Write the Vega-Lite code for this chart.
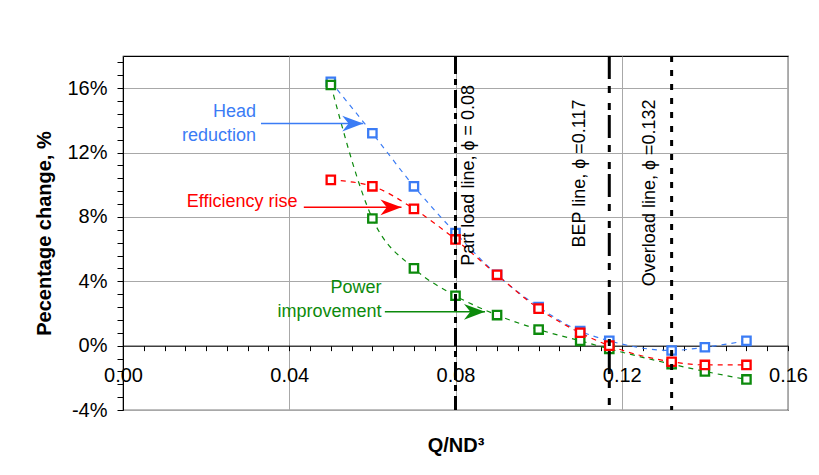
{
  "$schema": "https://vega.github.io/schema/vega-lite/v6.json",
  "width": 665,
  "height": 354,
  "autosize": {"type": "none"},
  "padding": {"left": 123, "top": 56, "right": 31, "bottom": 65},
  "background": "white",
  "config": {
    "font": "Liberation Sans",
    "view": {"stroke": "#000000", "strokeWidth": 1.2},
    "axis": {
      "domainColor": "#000000",
      "tickColor": "#000000",
      "labelColor": "#000000",
      "titleColor": "#000000",
      "gridColor": "#a8a8a8",
      "gridWidth": 1,
      "labelFont": "Liberation Sans",
      "titleFont": "Liberation Sans",
      "labelFontSize": 20,
      "titleFontSize": 20,
      "titleFontWeight": "bold",
      "labelOverlap": false,
      "labelFlush": false
    }
  },
  "datasets": {
    "series": [
      {"q": 0.05, "pct": 16.4, "s": "Head reduction"},
      {"q": 0.06, "pct": 13.2, "s": "Head reduction"},
      {"q": 0.07, "pct": 9.9, "s": "Head reduction"},
      {"q": 0.08, "pct": 7.0, "s": "Head reduction"},
      {"q": 0.09, "pct": 4.4, "s": "Head reduction"},
      {"q": 0.10, "pct": 2.4, "s": "Head reduction"},
      {"q": 0.11, "pct": 0.9, "s": "Head reduction"},
      {"q": 0.117, "pct": 0.3, "s": "Head reduction"},
      {"q": 0.132, "pct": -0.3, "s": "Head reduction"},
      {"q": 0.14, "pct": -0.1, "s": "Head reduction"},
      {"q": 0.15, "pct": 0.3, "s": "Head reduction"},
      {"q": 0.05, "pct": 16.2, "s": "Power improvement"},
      {"q": 0.06, "pct": 7.9, "s": "Power improvement"},
      {"q": 0.07, "pct": 4.8, "s": "Power improvement"},
      {"q": 0.08, "pct": 3.1, "s": "Power improvement"},
      {"q": 0.09, "pct": 1.9, "s": "Power improvement"},
      {"q": 0.10, "pct": 1.0, "s": "Power improvement"},
      {"q": 0.11, "pct": 0.3, "s": "Power improvement"},
      {"q": 0.117, "pct": -0.2, "s": "Power improvement"},
      {"q": 0.132, "pct": -1.15, "s": "Power improvement"},
      {"q": 0.14, "pct": -1.6, "s": "Power improvement"},
      {"q": 0.15, "pct": -2.1, "s": "Power improvement"},
      {"q": 0.05, "pct": 10.3, "s": "Efficiency rise"},
      {"q": 0.06, "pct": 9.9, "s": "Efficiency rise"},
      {"q": 0.07, "pct": 8.5, "s": "Efficiency rise"},
      {"q": 0.08, "pct": 6.6, "s": "Efficiency rise"},
      {"q": 0.09, "pct": 4.4, "s": "Efficiency rise"},
      {"q": 0.10, "pct": 2.3, "s": "Efficiency rise"},
      {"q": 0.11, "pct": 0.8, "s": "Efficiency rise"},
      {"q": 0.117, "pct": 0.0, "s": "Efficiency rise"},
      {"q": 0.132, "pct": -1.0, "s": "Efficiency rise"},
      {"q": 0.14, "pct": -1.2, "s": "Efficiency rise"},
      {"q": 0.15, "pct": -1.2, "s": "Efficiency rise"}
    ],
    "refs": [
      {"q": 0.08, "name": "part", "label": "Part load line, ϕ = 0.08", "ly": 16.2},
      {"q": 0.117, "name": "bep", "label": "BEP line, ϕ =0.117", "ly": 15.3},
      {"q": 0.132, "name": "over", "label": "Overload line, ϕ =0.132", "ly": 15.3}
    ],
    "notes": [
      {"s": "Head reduction", "text": "Head\nreduction", "tx": 0.032, "ty": 14.53, "x1": 0.0332, "x2": 0.0578, "ay": 13.8},
      {"s": "Efficiency rise", "text": "Efficiency rise", "tx": 0.042, "ty": 8.95, "x1": 0.0435, "x2": 0.067, "ay": 8.6},
      {"s": "Power improvement", "text": "Power\nimprovement", "tx": 0.0622, "ty": 3.57, "x1": 0.063, "x2": 0.0871, "ay": 2.1}
    ]
  },
  "layer": [
    {
      "data": {"name": "series"},
      "mark": {"type": "line", "interpolate": "monotone", "strokeDash": [5, 5], "strokeWidth": 1.2},
      "encoding": {
        "x": {
          "field": "q",
          "type": "quantitative",
          "scale": {"domain": [0, 0.16], "nice": false, "zero": false},
          "axis": {
            "title": "Q/ND³",
            "titlePadding": 50,
            "offset": -64.36,
            "tickCount": 100,
            "values": [0, 0.005, 0.01, 0.015, 0.02, 0.025, 0.03, 0.035, 0.04, 0.045, 0.05, 0.055, 0.06, 0.065, 0.07, 0.075, 0.08, 0.085, 0.09, 0.095, 0.1, 0.105, 0.11, 0.115, 0.12, 0.125, 0.13, 0.135, 0.14, 0.145, 0.15, 0.155, 0.16],
            "labelExpr": "abs(datum.value / 0.04 - round(datum.value / 0.04)) < 0.001 ? format(datum.value, '.2f') : ''",
            "tickSize": 5,
            "labelPadding": 15,
            "grid": true,
            "gridOpacity": {"condition": {"test": "abs(datum.value / 0.04 - round(datum.value / 0.04)) < 0.001", "value": 1}, "value": 0}
          }
        },
        "y": {
          "field": "pct",
          "type": "quantitative",
          "scale": {"domain": [-4, 18], "nice": false, "zero": false},
          "axis": {
            "title": "Pecentage change, %",
            "titlePadding": 12,
            "tickCount": 100,
            "values": [-4, -3.2, -2.4, -1.6, -0.8, 0, 0.8, 1.6, 2.4, 3.2, 4, 4.8, 5.6, 6.4, 7.2, 8, 8.8, 9.6, 10.4, 11.2, 12, 12.8, 13.6, 14.4, 15.2, 16, 16.8, 17.6],
            "labelExpr": "abs(datum.value / 4 - round(datum.value / 4)) < 0.001 ? datum.value + '%' : ''",
            "tickSize": 6,
            "labelPadding": 10,
            "grid": true,
            "gridOpacity": {"condition": {"test": "abs(datum.value / 4 - round(datum.value / 4)) < 0.001", "value": 1}, "value": 0}
          }
        },
        "color": {
          "field": "s",
          "type": "nominal",
          "scale": {"domain": ["Head reduction", "Efficiency rise", "Power improvement"], "range": ["#3b7cf5", "#ff0000", "#0c8a0c"]},
          "legend": null
        }
      }
    },
    {
      "data": {"name": "series"},
      "mark": {"type": "point", "shape": "square", "filled": false, "fill": "white", "fillOpacity": 1, "opacity": 1, "size": 70, "strokeWidth": 2.3},
      "encoding": {
        "x": {"field": "q", "type": "quantitative"},
        "y": {"field": "pct", "type": "quantitative"},
        "color": {"field": "s", "type": "nominal", "legend": null}
      }
    },
    {
      "data": {"name": "refs"},
      "mark": {"type": "rule", "color": "#000000", "strokeWidth": 3},
      "encoding": {
        "x": {"field": "q", "type": "quantitative"},
        "strokeDash": {
          "field": "name",
          "type": "nominal",
          "scale": {"domain": ["part", "bep", "over"], "range": [[18, 5, 6, 5], [23, 7, 7, 10, 7, 5], [6, 8]]},
          "legend": null
        }
      }
    },
    {
      "data": {"name": "refs"},
      "transform": [{"filter": "datum.name === 'part'"}],
      "mark": {"type": "text", "angle": 270, "align": "right", "baseline": "alphabetic", "dy": 18, "fontSize": 18, "color": "#000000"},
      "encoding": {
        "x": {"field": "q", "type": "quantitative"},
        "y": {"field": "ly", "type": "quantitative"},
        "text": {"field": "label"}
      }
    },
    {
      "data": {"name": "refs"},
      "transform": [{"filter": "datum.name === 'bep'"}],
      "mark": {"type": "text", "angle": 270, "align": "right", "baseline": "alphabetic", "dy": -24, "fontSize": 18, "color": "#000000"},
      "encoding": {
        "x": {"field": "q", "type": "quantitative"},
        "y": {"field": "ly", "type": "quantitative"},
        "text": {"field": "label"}
      }
    },
    {
      "data": {"name": "refs"},
      "transform": [{"filter": "datum.name === 'over'"}],
      "mark": {"type": "text", "angle": 270, "align": "right", "baseline": "alphabetic", "dy": -17, "fontSize": 18, "color": "#000000"},
      "encoding": {
        "x": {"field": "q", "type": "quantitative"},
        "y": {"field": "ly", "type": "quantitative"},
        "text": {"field": "label"}
      }
    },
    {
      "data": {"name": "notes"},
      "mark": {"type": "text", "align": "right", "baseline": "middle", "fontSize": 18, "lineHeight": 24, "lineBreak": "\n"},
      "encoding": {
        "x": {"field": "tx", "type": "quantitative"},
        "y": {"field": "ty", "type": "quantitative"},
        "text": {"field": "text"},
        "color": {"field": "s", "type": "nominal", "legend": null}
      }
    },
    {
      "data": {"name": "notes"},
      "mark": {"type": "rule", "strokeWidth": 1.5},
      "encoding": {
        "x": {"field": "x1", "type": "quantitative"},
        "x2": {"field": "x2"},
        "y": {"field": "ay", "type": "quantitative"},
        "color": {"field": "s", "type": "nominal", "legend": null}
      }
    },
    {
      "data": {"name": "notes"},
      "mark": {"type": "point", "shape": "M0,0 L-2,-0.75 L-1.4,0 L-2,0.75 Z", "filled": true, "opacity": 1, "size": 441, "strokeWidth": 0},
      "encoding": {
        "x": {"field": "x2", "type": "quantitative"},
        "y": {"field": "ay", "type": "quantitative"},
        "color": {"field": "s", "type": "nominal", "legend": null}
      }
    }
  ]
}
